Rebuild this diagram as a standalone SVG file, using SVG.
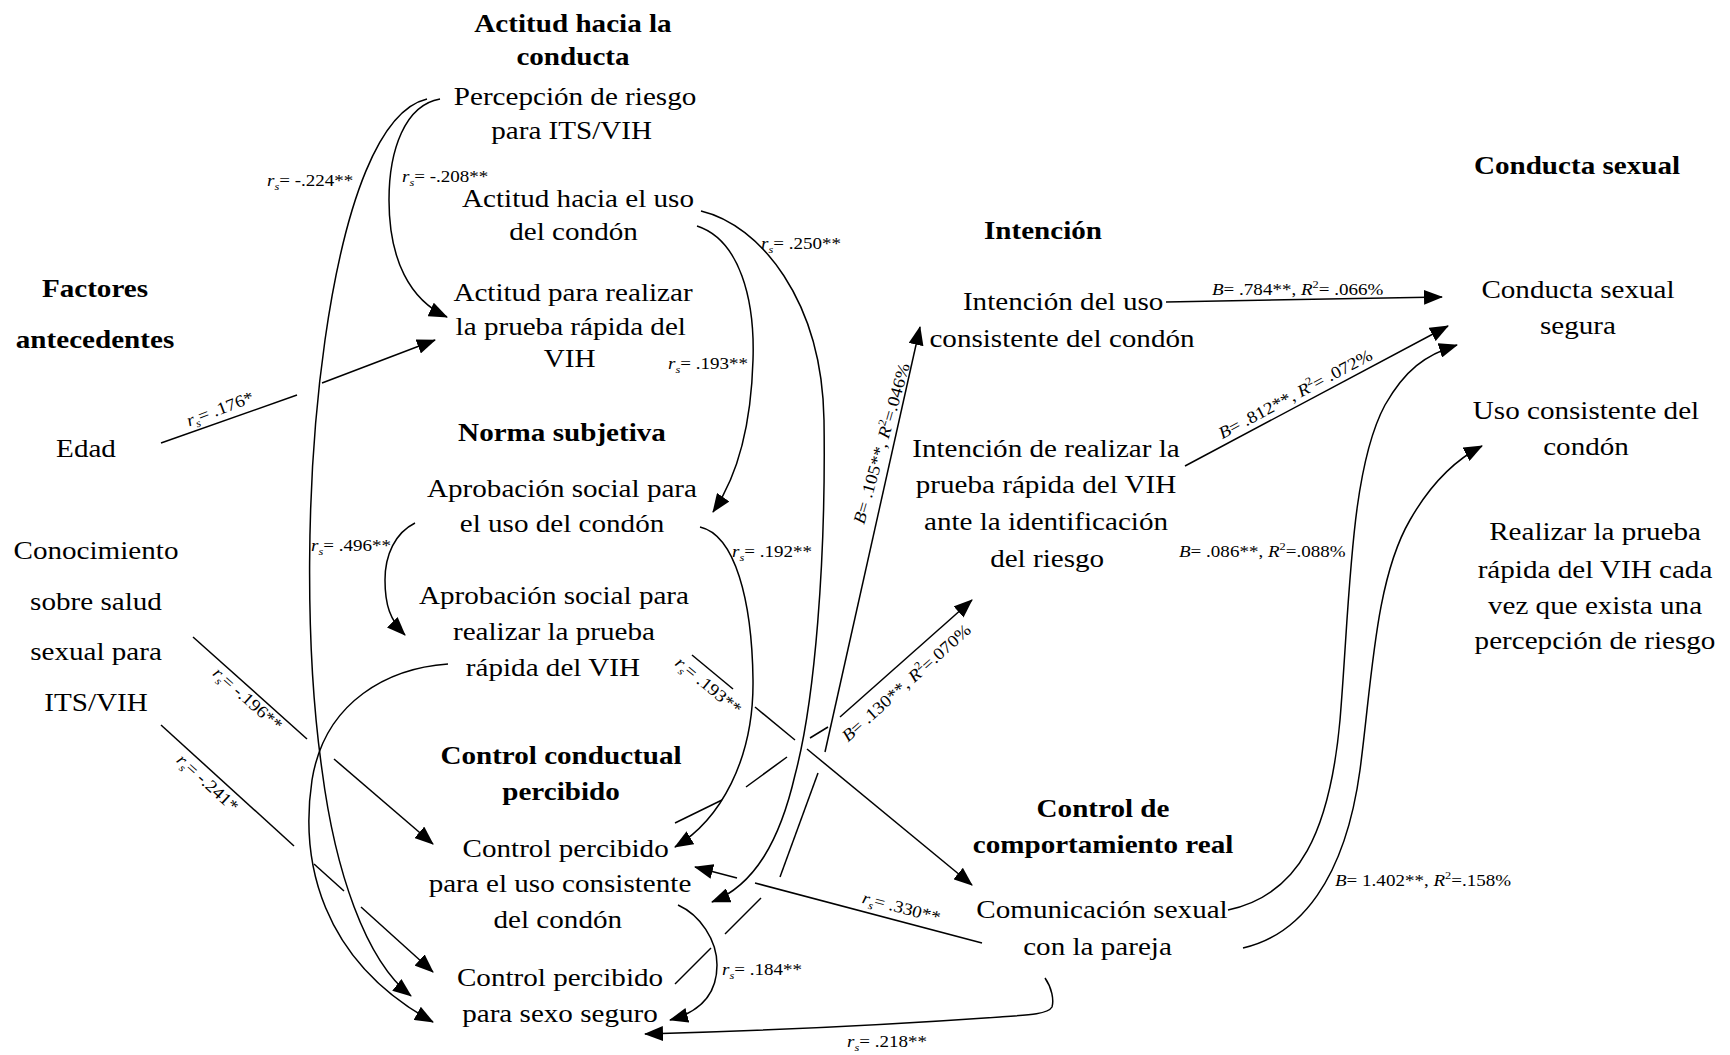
<svg xmlns="http://www.w3.org/2000/svg" width="1730" height="1055" viewBox="0 0 1730 1055">
  <style>
    text { font-family: "Liberation Serif", "Times New Roman", serif; fill: #000; }
    .t { font-size: 26px; text-anchor: middle; }
    .h { font-size: 26px; font-weight: bold; text-anchor: middle; }
    .lb { font-size: 17px; text-anchor: start; }
    .lc { font-size: 17px; text-anchor: middle; }
    .i { font-style: italic; }
    .sub { font-style: italic; font-size: 11px; }
    .sup { font-size: 11px; }
    .c path { fill: none; stroke: #000; stroke-width: 1.5; }
    .c path.a { marker-end: url(#ah); }
  </style>
  <defs>
    <marker id="ah" markerUnits="userSpaceOnUse" markerWidth="19" markerHeight="15" refX="18" refY="7.5" orient="auto">
      <path d="M0,0 L19,7.5 L0,15 z" fill="#000"/>
    </marker>
  </defs>
  <rect width="1730" height="1055" fill="#fff"/>

  <!-- section headings -->
  <g id="headings">
    <text class="h" transform="translate(573 0) scale(1.12 1)"><tspan x="0" y="32">Actitud hacia la</tspan><tspan x="0" y="65">conducta</tspan></text>
    <text class="h" transform="translate(95 0) scale(1.12 1)"><tspan x="0" y="297">Factores</tspan><tspan x="0" y="348">antecedentes</tspan></text>
    <text class="h" transform="translate(562 441) scale(1.12 1)">Norma subjetiva</text>
    <text class="h" transform="translate(561 0) scale(1.12 1)"><tspan x="0" y="764">Control conductual</tspan><tspan x="0" y="800">percibido</tspan></text>
    <text class="h" transform="translate(1043 239) scale(1.12 1)">Intención</text>
    <text class="h" transform="translate(1577 174) scale(1.12 1)">Conducta sexual</text>
    <text class="h" transform="translate(1103 0) scale(1.12 1)"><tspan x="0" y="817">Control de</tspan><tspan x="0" y="853">comportamiento real</tspan></text>
  </g>

  <!-- nodes -->
  <g id="n-percepcion"><text class="t" transform="translate(575 0) scale(1.12 1)"><tspan x="0" y="105">Percepción de riesgo</tspan><tspan x="-3" y="139">para ITS/VIH</tspan></text></g>
  <g id="n-actitud-condon"><text class="t" transform="translate(578 0) scale(1.12 1)"><tspan x="0" y="207">Actitud hacia el uso</tspan><tspan x="-4" y="240">del condón</tspan></text></g>
  <g id="n-actitud-prueba"><text class="t" transform="translate(573 0) scale(1.12 1)"><tspan x="0" y="301">Actitud para realizar</tspan><tspan x="-2" y="335">la prueba rápida del</tspan><tspan x="-3" y="367">VIH</tspan></text></g>
  <g id="n-edad"><text class="t" transform="translate(86 457) scale(1.12 1)">Edad</text></g>
  <g id="n-conocimiento"><text class="t" transform="translate(96 0) scale(1.12 1)"><tspan x="0" y="559">Conocimiento</tspan><tspan x="0" y="610">sobre salud</tspan><tspan x="0" y="660">sexual para</tspan><tspan x="0" y="711">ITS/VIH</tspan></text></g>
  <g id="n-aprob-condon"><text class="t" transform="translate(562 0) scale(1.12 1)"><tspan x="0" y="497">Aprobación social para</tspan><tspan x="0" y="532">el uso del condón</tspan></text></g>
  <g id="n-aprob-prueba"><text class="t" transform="translate(554 0) scale(1.12 1)"><tspan x="0" y="604">Aprobación social para</tspan><tspan x="0" y="640">realizar la prueba</tspan><tspan x="-1" y="676">rápida del VIH</tspan></text></g>
  <g id="n-cp-condon"><text class="t" transform="translate(560 0) scale(1.12 1)"><tspan x="5" y="857">Control percibido</tspan><tspan x="0" y="892">para el uso consistente</tspan><tspan x="-2" y="928">del condón</tspan></text></g>
  <g id="n-cp-sexo"><text class="t" transform="translate(560 0) scale(1.12 1)"><tspan x="0" y="986">Control percibido</tspan><tspan x="0" y="1022">para sexo seguro</tspan></text></g>
  <g id="n-int-condon"><text class="t" transform="translate(1062 0) scale(1.12 1)"><tspan x="1" y="310">Intención del uso</tspan><tspan x="0" y="347">consistente del condón</tspan></text></g>
  <g id="n-int-prueba"><text class="t" transform="translate(1046 0) scale(1.12 1)"><tspan x="0" y="457">Intención de realizar la</tspan><tspan x="0" y="493">prueba rápida del VIH</tspan><tspan x="0" y="530">ante la identificación</tspan><tspan x="1" y="567">del riesgo</tspan></text></g>
  <g id="n-comunicacion"><text class="t" transform="translate(1102 0) scale(1.12 1)"><tspan x="0" y="918">Comunicación sexual</tspan><tspan x="-4" y="955">con la pareja</tspan></text></g>
  <g id="n-conducta-segura"><text class="t" transform="translate(1578 0) scale(1.12 1)"><tspan x="0" y="298">Conducta sexual</tspan><tspan x="0" y="334">segura</tspan></text></g>
  <g id="n-uso-condon"><text class="t" transform="translate(1586 0) scale(1.12 1)"><tspan x="0" y="419">Uso consistente del</tspan><tspan x="0" y="455">condón</tspan></text></g>
  <g id="n-prueba-riesgo"><text class="t" transform="translate(1595 0) scale(1.12 1)"><tspan x="0" y="540">Realizar la prueba</tspan><tspan x="0" y="578">rápida del VIH cada</tspan><tspan x="0" y="614">vez que exista una</tspan><tspan x="0" y="649">percepción de riesgo</tspan></text></g>

  <!-- connectors -->
  <g id="connectors" class="c">
    <!-- Edad -> actitud prueba -->
    <path d="M161,443 L297,395"/>
    <path class="a" d="M322,383 L435,340"/>
    <!-- percepción -> actitud prueba -->
    <path class="a" d="M440,99 C405,105 389,150 389,200 C389,260 410,300 447,317"/>
    <!-- percepción -> control percibido sexo seguro -->
    <path class="a" d="M427,99 C380,110 345,200 325,340 C305,480 305,650 322,770 C335,870 365,960 411,996"/>
    <!-- actitud condón -> aprobación condón -->
    <path class="a" d="M697,226 C740,240 755,300 753,360 C751,430 735,480 713,512"/>
    <!-- actitud condón -> control percibido condón -->
    <path class="a" d="M701,211 C760,225 822,300 824,420 C826,560 815,700 795,775 C780,840 755,885 712,902"/>
    <!-- aprobación condón -> aprobación prueba -->
    <path class="a" d="M415,523 C395,533 385,555 385,580 C385,605 390,620 405,635"/>
    <!-- aprobación condón -> control percibido condón -->
    <path class="a" d="M700,527 C735,535 752,600 753,680 C754,760 720,820 675,847"/>
    <!-- aprobación prueba -> control percibido sexo seguro -->
    <path class="a" d="M448,664 C390,668 325,700 312,780 C300,860 320,960 433,1022"/>
    <!-- aprobación prueba -> comunicación -->
    <path d="M692,655 L733,689"/>
    <path d="M755,707 L795,740"/>
    <path class="a" d="M807,749 L972,885"/>
    <!-- conocimiento -> control percibido condón -->
    <path d="M193,637 L307,739"/>
    <path class="a" d="M334,759 L433,844"/>
    <!-- conocimiento -> control percibido sexo seguro -->
    <path d="M161,725 L294,846"/>
    <path d="M314,864 L344,891"/>
    <path class="a" d="M361,907 L433,972"/>
    <!-- control percibido condón -> control percibido sexo seguro -->
    <path class="a" d="M678,905 C700,915 717,940 717,965 C717,995 700,1012 670,1020"/>
    <!-- comunicación -> control percibido condón -->
    <path d="M982,943 L755,883"/>
    <path class="a" d="M737,878 L695,867"/>
    <!-- comunicación -> control percibido sexo seguro -->
    <path class="a" d="M1045,978 C1052,988 1054,1000 1052,1007 C1048,1014 1030,1015 1000,1017 C900,1024 760,1031 645,1034"/>
    <!-- control percibido sexo seguro -> intención condón -->
    <path d="M675,984 L711,948"/>
    <path d="M725,934 L761,898"/>
    <path d="M780,877 L818,773"/>
    <path class="a" d="M825,752 L920,327"/>
    <!-- control percibido condón -> intención prueba -->
    <path d="M675,823 L722,800"/>
    <path d="M746,787 L787,757"/>
    <path d="M810,738 L828,727"/>
    <path class="a" d="M840,717 L972,600"/>
    <!-- intenciones -> conducta sexual segura -->
    <path class="a" d="M1166,302 L1442,297"/>
    <path class="a" d="M1185,466 L1448,326"/>
    <!-- comunicación -> conducta sexual segura -->
    <path class="a" d="M1228,910 C1300,895 1330,830 1340,720 C1350,600 1350,470 1385,405 C1405,370 1425,355 1457,345"/>
    <!-- comunicación -> uso consistente -->
    <path class="a" d="M1243,948 C1300,935 1345,880 1360,770 C1372,680 1375,580 1410,520 C1430,485 1455,460 1482,446"/>
  </g>

  <!-- coefficient labels -->
  <g id="labels">
    <text class="lb" transform="translate(267 186) scale(1.12 1)"><tspan class="i">r</tspan><tspan class="sub" dy="4">s</tspan><tspan dy="-4">= -.224**</tspan></text>
    <text class="lb" transform="translate(402 182) scale(1.12 1)"><tspan class="i">r</tspan><tspan class="sub" dy="4">s</tspan><tspan dy="-4">= -.208**</tspan></text>
    <text class="lb" transform="translate(761 249) scale(1.12 1)"><tspan class="i">r</tspan><tspan class="sub" dy="4">s</tspan><tspan dy="-4">= .250**</tspan></text>
    <text class="lb" transform="translate(668 369) scale(1.12 1)"><tspan class="i">r</tspan><tspan class="sub" dy="4">s</tspan><tspan dy="-4">= .193**</tspan></text>
    <text class="lc" transform="translate(222 414) rotate(-20.6) scale(1.12 1)"><tspan class="i">r</tspan><tspan class="sub" dy="4">s</tspan><tspan dy="-4">= .176*</tspan></text>
    <text class="lb" transform="translate(311 551) scale(1.12 1)"><tspan class="i">r</tspan><tspan class="sub" dy="4">s</tspan><tspan dy="-4">= .496**</tspan></text>
    <text class="lb" transform="translate(732 557) scale(1.12 1)"><tspan class="i">r</tspan><tspan class="sub" dy="4">s</tspan><tspan dy="-4">= .192**</tspan></text>
    <text class="lc" transform="translate(244 703) rotate(41.5) scale(1.12 1)"><tspan class="i">r</tspan><tspan class="sub" dy="4">s</tspan><tspan dy="-4">= -.196**</tspan></text>
    <text class="lc" transform="translate(204 787) rotate(42.3) scale(1.12 1)"><tspan class="i">r</tspan><tspan class="sub" dy="4">s</tspan><tspan dy="-4">= -.241*</tspan></text>
    <text class="lc" transform="translate(705 690) rotate(39.4) scale(1.12 1)"><tspan class="i">r</tspan><tspan class="sub" dy="4">s</tspan><tspan dy="-4">= .193**</tspan></text>
    <text class="lc" transform="translate(900 913) rotate(14.8) scale(1.12 1)"><tspan class="i">r</tspan><tspan class="sub" dy="4">s</tspan><tspan dy="-4">= .330**</tspan></text>
    <text class="lb" transform="translate(722 975) scale(1.12 1)"><tspan class="i">r</tspan><tspan class="sub" dy="4">s</tspan><tspan dy="-4">= .184**</tspan></text>
    <text class="lb" transform="translate(847 1047) scale(1.12 1)"><tspan class="i">r</tspan><tspan class="sub" dy="4">s</tspan><tspan dy="-4">= .218**</tspan></text>

    <text class="lb" transform="translate(1212 295) scale(1.12 1)"><tspan class="i">B</tspan>= .784**, <tspan class="i">R</tspan><tspan class="sup" dy="-7">2</tspan><tspan dy="7">= .066%</tspan></text>
    <text class="lc" transform="translate(1298 399) rotate(-28) scale(1.12 1)"><tspan class="i">B</tspan>= .812**, <tspan class="i">R</tspan><tspan class="sup" dy="-7">2</tspan><tspan dy="7">= .072%</tspan></text>
    <text class="lc" transform="translate(887 445) rotate(-74) scale(1.12 1)"><tspan class="i">B</tspan>= .105**, <tspan class="i">R</tspan><tspan class="sup" dy="-7">2</tspan><tspan dy="7">=.046%</tspan></text>
    <text class="lc" transform="translate(910 687) rotate(-41.8) scale(1.12 1)"><tspan class="i">B</tspan>= .130**, <tspan class="i">R</tspan><tspan class="sup" dy="-7">2</tspan><tspan dy="7">=.070%</tspan></text>
    <text class="lb" transform="translate(1179 557) scale(1.12 1)"><tspan class="i">B</tspan>= .086**, <tspan class="i">R</tspan><tspan class="sup" dy="-7">2</tspan><tspan dy="7">=.088%</tspan></text>
    <text class="lb" transform="translate(1335 886) scale(1.12 1)"><tspan class="i">B</tspan>= 1.402**, <tspan class="i">R</tspan><tspan class="sup" dy="-7">2</tspan><tspan dy="7">=.158%</tspan></text>
  </g>
</svg>
